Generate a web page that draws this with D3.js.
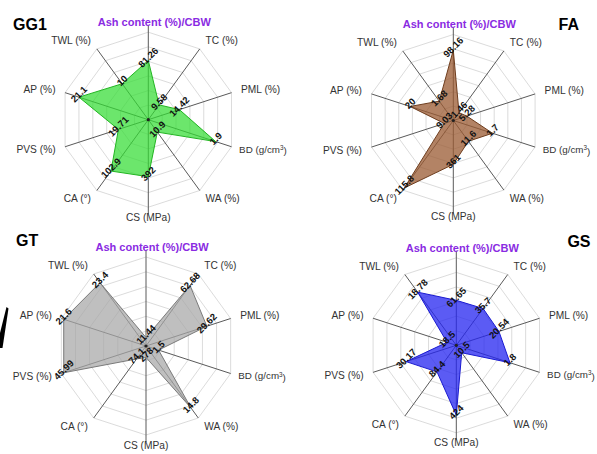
<!DOCTYPE html>
<html>
<head>
<meta charset="utf-8">
<script src="https://cdn.jsdelivr.net/npm/d3@7"></script>
<style>
  html, body { margin: 0; padding: 0; background: #fff; }
  svg { display: block; font-family: Arial, "Liberation Sans", sans-serif; }
</style>
</head>
<body>
<svg id="chart" width="597" height="454"></svg>
<script>
// ---- data ----
const axisNames = ["Ash content (%)/CBW", "TC (%)", "PML (%)", "BD (g/cm3)", "WA (%)", "CS (MPa)", "CA (°)", "PVS (%)", "AP (%)", "TWL (%)"];
// per-axis scale ranges (inner ring -> outer ring)
const axisMin = [0, -8, -2, 1.41, 9.9, 250, 64.6, 4.3, 18.1, -8.4];
const axisMax = [120, 76, 42, 2.015, 15.6, 468, 117.4, 47.2, 21.7, 27.8];
const panelNames = ["GG1", "FA", "GT", "GS"];
const valuesGG1 = [81.26, 9.58, 14.42, 1.9, 10.9, 392, 102.9, 19.71, 21.1, 10];
const valuesFA  = [98.16, 1.46, 5.28, 1.7, 11.6, 361, 115.8, 9.03, 20, 1.68];
const valuesGT  = [11.44, 62.68, 29.62, 1.5, 14.8, 278, 74.1, 45.99, 21.6, 23.4];
const valuesGS  = [61.65, 35.7, 20.54, 1.8, 10.5, 424, 84.4, 30.17, 18.5, 18.78];
const panelValues = [valuesGG1, valuesFA, valuesGT, valuesGS];

// ---- layout / style ----
const layout = [
  {cx: 148.3, cy: 119.7, R: 87.5, tx: 13, ty: 30, anchor: "start"},
  {cx: 453.3, cy: 120.5, R: 86,   tx: 579, ty: 30, anchor: "end"},
  {cx: 146,   cy: 346,   R: 89,   tx: 16, ty: 245.5, anchor: "start"},
  {cx: 456.3, cy: 345.3, R: 87.5, tx: 590.5, ty: 247, anchor: "end"}
];
const styles = [
  {fill: "#33dd33", opacity: 0.72, stroke: "#22b522"},
  {fill: "#9a5a32", opacity: 0.75, stroke: "#6e3d1e"},
  {fill: "#a6a6a6", opacity: 0.72, stroke: "#7a7a7a"},
  {fill: "#2424f0", opacity: 0.75, stroke: "#1a1ad0"}
];
const nRings = 6;

const svg = d3.select("#chart");

// decorative mark at left edge
svg.append("path")
  .attr("d", "M6.5,307 L8.5,308.5 L2.5,348 L0,348 L0,333 Z")
  .attr("fill", "#000");

const nAxes = axisNames.length;
const angle = d3.scaleLinear().domain([0, nAxes]).range([0, 2 * Math.PI]);

panelNames.forEach((name, pi) => {
  const L = layout[pi], S = styles[pi];
  const g = svg.append("g").attr("transform", `translate(${L.cx},${L.cy})`);
  const rScale = axisMin.map((mn, i) => d3.scaleLinear().domain([mn, axisMax[i]]).range([0, L.R]));
  const pt = (i, r) => [r * Math.sin(angle(i)), -r * Math.cos(angle(i))];

  // rings
  const ringLine = d3.line().curve(d3.curveLinearClosed);
  d3.range(1, nRings + 1).forEach(k => {
    const r = L.R * k / nRings;
    g.append("path")
      .attr("d", ringLine(d3.range(nAxes).map(i => pt(i, r))))
      .attr("fill", "none")
      .attr("stroke", "#d2d2d2")
      .attr("stroke-width", 0.8);
  });

  // axes
  d3.range(nAxes).forEach(i => {
    const ext = (i === 0 || i === 5) ? 7 : 0;
    const p = pt(i, L.R + ext);
    g.append("line")
      .attr("x1", 0).attr("y1", 0)
      .attr("x2", p[0]).attr("y2", p[1])
      .attr("stroke", "#5a5a5a")
      .attr("stroke-width", 1);
  });

  // polygon
  const vals = panelValues[pi];
  const pts = vals.map((v, i) => pt(i, rScale[i](v)));
  g.append("path")
    .attr("d", ringLine(pts))
    .attr("fill", S.fill)
    .attr("fill-opacity", S.opacity)
    .attr("stroke", S.stroke)
    .attr("stroke-width", 1);

  // center dot
  g.append("circle").attr("r", 1.6).attr("fill", "#222");

  // value labels
  vals.forEach((v, i) => {
    const p = pts[i];
    g.append("text")
      .attr("transform", `translate(${p[0]},${p[1] - 3}) rotate(-45)`)
      .attr("text-anchor", "middle")
      .attr("dy", "0.35em")
      .attr("font-size", 9.5)
      .attr("font-weight", "bold")
      .attr("fill", "#111")
      .text(String(v));
  });

  // axis labels
  axisNames.forEach((a, i) => {
    const s = Math.sin(angle(i));
    if (i === 0) {
      g.append("text")
        .attr("x", 6).attr("y", -L.R - 10)
        .attr("text-anchor", "middle")
        .attr("dy", "0.35em")
        .attr("font-size", 11)
        .attr("font-weight", "bold")
        .attr("fill", "#8a2be2")
        .text(a);
      return;
    }
    const isBD = a === "BD (g/cm3)";
    const p = pt(i, L.R + (isBD ? 8 : 10));
    const t = g.append("text")
      .attr("x", p[0]).attr("y", p[1])
      .attr("dy", "0.35em")
      .attr("text-anchor", s > 0.1 ? "start" : (s < -0.1 ? "end" : "middle"))
      .attr("font-size", isBD ? 9.8 : 10.2)
      .attr("fill", "#333");
    if (isBD) {
      t.append("tspan").text("BD (g/cm");
      t.append("tspan").attr("dy", "-0.45em").attr("font-size", 6.3).text("3");
      t.append("tspan").attr("dy", "0.45em").text(")");
    } else {
      t.text(a);
    }
  });

  // panel title
  svg.append("text")
    .attr("x", L.tx).attr("y", L.ty)
    .attr("text-anchor", L.anchor)
    .attr("font-size", 16)
    .attr("font-weight", "bold")
    .attr("fill", "#000")
    .text(name);
});
</script>
</body>
</html>
